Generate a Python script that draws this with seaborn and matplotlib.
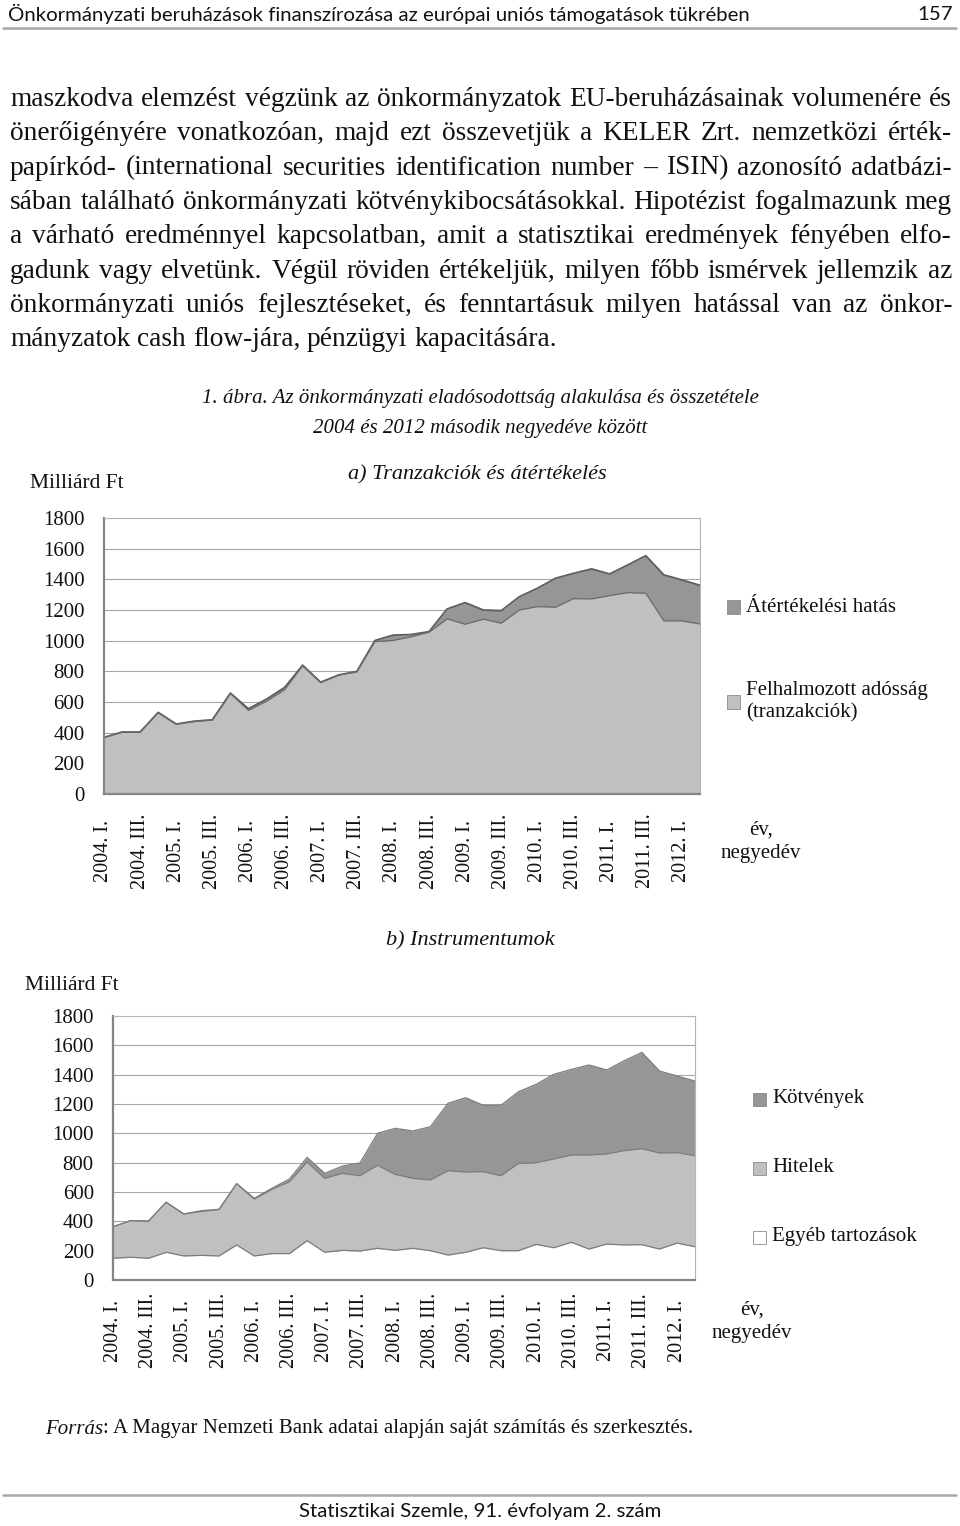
import matplotlib
matplotlib.use("Agg")
import matplotlib.pyplot as plt
from matplotlib.patches import Rectangle
from matplotlib.lines import Line2D
import seaborn as sns
import pandas as pd
import numpy as np

# --- data (Milliárd Ft), 2004 Q1 .. 2012 Q2 ---
tick_labels = ["2004. I.", "2004. III.", "2005. I.", "2005. III.", "2006. I.", "2006. III.",
               "2007. I.", "2007. III.", "2008. I.", "2008. III.", "2009. I.", "2009. III.",
               "2010. I.", "2010. III.", "2011. I.", "2011. III.", "2012. I."]

# a) Tranzakciók és átértékelés
felhalmozott = [369, 404, 404, 532, 456, 472, 482, 656, 545, 605, 680, 836, 727, 775, 797, 994, 1001,
                1025, 1055, 1142, 1107, 1140, 1114, 1200, 1222, 1218, 1274, 1272, 1294, 1313, 1309,
                1129, 1129, 1109]
atertekeles = [0, 0, 0, 0, 0, 3, 2, 2, 11, 14, 15, 4, 2, 2, 2, 7, 35,
               15, 4, 65, 141, 60, 82, 87, 120, 189, 165, 196, 141, 181, 245,
               300, 267, 252]

# b) Instrumentumok
egyeb = [148, 155, 148, 189, 164, 168, 164, 239, 164, 180, 180, 268, 189, 202, 198, 216, 202,
         216, 200, 170, 189, 220, 200, 200, 243, 220, 257, 211, 245, 239, 241, 211, 252, 227]
hitelek = [216, 250, 254, 341, 286, 300, 316, 418, 388, 438, 490, 537, 504, 525, 513, 566, 518,
           477, 482, 575, 547, 519, 511, 595, 557, 605, 595, 641, 614, 643, 654, 655, 616, 621]
kotvenyek = [0, 0, 0, 0, 0, 5, 2, 0, 5, 7, 19, 31, 34, 50, 87, 218, 314,
             323, 363, 460, 507, 452, 480, 489, 534, 577, 584, 614, 573, 613, 657, 559, 523, 509]

paragraph = [
    "maszkodva elemzést végzünk az önkormányzatok EU-beruházásainak volumenére és",
    "önerőigényére vonatkozóan, majd ezt összevetjük a KELER Zrt. nemzetközi érték-",
    "papírkód- (international securities identification number – ISIN) azonosító adatbázi-",
    "sában található önkormányzati kötvénykibocsátásokkal. Hipotézist fogalmazunk meg",
    "a várható eredménnyel kapcsolatban, amit a statisztikai eredmények fényében elfo-",
    "gadunk vagy elvetünk. Végül röviden értékeljük, milyen főbb ismérvek jellemzik az",
    "önkormányzati uniós fejlesztéseket, és fenntartásuk milyen hatással van az önkor-",
    "mányzatok cash flow-jára, pénzügyi kapacitására.",
]

sns.set_style("white")
plt.rcParams['font.family'] = 'Liberation Serif'
head_font = 'Lato'

W, H = 960, 1526
def fx(px):
    return px / W
def fy(py):
    return 1 - py / H

fig = plt.figure(figsize=(9.6, 15.26), dpi=100)
renderer = fig.canvas.get_renderer()

DARK = '#969696'
LIGHT = '#c0c0c0'
TXT = '#111111'

# header / footer
fig.text(fx(8), fy(14), "Önkormányzati beruházások finanszírozása az európai uniós támogatások tükrében",
         family=head_font, fontsize=14.7, va='center', ha='left', color=TXT)
fig.text(fx(953), fy(14), "157", family=head_font, fontsize=14.7, va='center', ha='right', color=TXT)
fig.add_artist(Line2D([fx(3), fx(956)], [fy(28), fy(28)], color='#a8a8a8', lw=1.8))
fig.add_artist(Line2D([fx(3), fx(956)], [fy(1495), fy(1495)], color='#a8a8a8', lw=1.8))
fig.text(fx(480), fy(1512), "Statisztikai Szemle, 91. évfolyam 2. szám",
         family=head_font, fontsize=14.7, va='center', ha='center', color=TXT)


def place_words(words, x0, x1, y, justify, **kw):
    arts = [fig.text(0, fy(y), w, va='baseline', ha='left', **kw) for w in words]
    widths = [a.get_window_extent(renderer).width for a in arts]
    if justify and len(words) > 1:
        gap = (x1 - x0 - sum(widths)) / (len(words) - 1)
    else:
        t = fig.text(0, 0, "a a", **kw)
        t2 = fig.text(0, 0, "aa", **kw)
        gap = t.get_window_extent(renderer).width - t2.get_window_extent(renderer).width
        t.remove()
        t2.remove()
    x = x0
    for a, w in zip(arts, widths):
        a.set_x(fx(x))
        x += w + gap


for i, line in enumerate(paragraph):
    place_words(line.split(" "), 10, 952, 106 + 34.3 * i, i < len(paragraph) - 1,
                fontsize=19.7, color=TXT)

# caption
fig.text(fx(480), fy(398), "1. ábra. Az önkormányzati eladósodottság alakulása és összetétele",
         style='italic', fontsize=15, ha='center', va='center', color=TXT)
fig.text(fx(480), fy(428), "2004 és 2012 második negyedéve között",
         style='italic', fontsize=15, ha='center', va='center', color=TXT)


def setup_axes(rect, pad_x):
    ax = fig.add_axes(rect)
    ax.set_xlim(0, 33)
    ax.set_ylim(0, 1800)
    ax.set_axisbelow(True)
    ax.yaxis.grid(True, color='#a6a6a6', lw=0.8)
    ax.set_yticks(np.arange(0, 1801, 200))
    ax.set_xticks(np.arange(34))
    ax.set_xticklabels([tick_labels[k // 2] if k % 2 == 0 else "" for k in range(34)],
                       rotation=90, va='center', ha='center')
    ax.tick_params(axis='x', direction='out', length=5, width=1.4, color='#868686',
                   pad=pad_x, labelsize=14.5, labelcolor=TXT)
    ax.tick_params(axis='y', direction='out', length=5, width=1.4, color='#868686',
                   pad=9, labelsize=15, labelcolor=TXT)
    for s in ['left', 'bottom']:
        ax.spines[s].set_color('#868686')
        ax.spines[s].set_linewidth(1.6)
    for s in ['top', 'right']:
        ax.spines[s].set_color('#b4b4b4')
        ax.spines[s].set_linewidth(0.8)
    return ax


def legend_box(x, y, color, label, edge='#8a8a8a'):
    fig.add_artist(Rectangle((fx(x), fy(y + 6.5)), 13 / W, 13 / H, transform=fig.transFigure,
                             facecolor=color, edgecolor=edge, lw=0.6))
    fig.text(fx(x + 19), fy(y), label, fontsize=15, va='center', ha='left', color=TXT,
             linespacing=1.2)


# ---------- chart a ----------
df_a = pd.DataFrame({"q": np.arange(34), "felhalmozott": felhalmozott, "atertekeles": atertekeles})
df_a["total"] = df_a["felhalmozott"] + df_a["atertekeles"]

ax1 = setup_axes([fx(104), fy(794), 596 / W, 276 / H], pad_x=36)
ax1.stackplot(df_a["q"], df_a["felhalmozott"], df_a["atertekeles"], colors=[LIGHT, DARK], lw=0)
sns.lineplot(data=df_a, x="q", y="total", ax=ax1, color='#5e5e5e', lw=1.3, legend=False)
sns.lineplot(data=df_a, x="q", y="felhalmozott", ax=ax1, color='#6a6a6a', lw=0.9, legend=False)
ax1.set_xlabel("")
ax1.set_ylabel("")

fig.text(fx(30), fy(484), "Milliárd Ft", fontsize=15.5, va='center', ha='left', color=TXT)
fig.text(fx(477), fy(475), "a) Tranzakciók és átértékelés", style='italic', fontsize=16,
         va='center', ha='center', color=TXT)
legend_box(727, 607, DARK, "Átértékelési hatás")
legend_box(727, 702, LIGHT, "Felhalmozott adósság\n(tranzakciók)")
fig.text(fx(761), fy(842), "év,\nnegyedév", fontsize=15, va='center', ha='center', color=TXT,
         linespacing=1.35)

# ---------- chart b ----------
df_b = pd.DataFrame({"q": np.arange(34), "egyeb": egyeb, "hitelek": hitelek, "kotvenyek": kotvenyek})
df_b["lvl1"] = df_b["egyeb"]
df_b["lvl2"] = df_b["egyeb"] + df_b["hitelek"]
df_b["lvl3"] = df_b["lvl2"] + df_b["kotvenyek"]

ax2 = setup_axes([fx(113.3), fy(1280), 581.4 / W, 264 / H], pad_x=31.5)
ax2.stackplot(df_b["q"], df_b["egyeb"], df_b["hitelek"], df_b["kotvenyek"],
              colors=['white', LIGHT, DARK], lw=0)
for col in ["lvl1", "lvl2", "lvl3"]:
    sns.lineplot(data=df_b, x="q", y=col, ax=ax2, color='#7c7c7c', lw=0.9, legend=False)
ax2.set_xlabel("")
ax2.set_ylabel("")

fig.text(fx(25), fy(986), "Milliárd Ft", fontsize=15.5, va='center', ha='left', color=TXT)
fig.text(fx(470), fy(941), "b) Instrumentumok", style='italic', fontsize=16,
         va='center', ha='center', color=TXT)
legend_box(753, 1099, DARK, "Kötvények")
legend_box(753, 1168, LIGHT, "Hitelek")
legend_box(753, 1237, 'white', "Egyéb tartozások")
fig.text(fx(752), fy(1322), "év,\nnegyedév", fontsize=15, va='center', ha='center', color=TXT,
         linespacing=1.35)

# source
src1 = fig.text(fx(45), fy(1429), "Forrás", style='italic', fontsize=15, va='center', ha='left', color=TXT)
w1 = src1.get_window_extent(renderer).width
fig.text(fx(45 + w1), fy(1429), ": A Magyar Nemzeti Bank adatai alapján saját számítás és szerkesztés.",
         fontsize=15, va='center', ha='left', color=TXT)

fig.savefig("out.png", dpi=100)
